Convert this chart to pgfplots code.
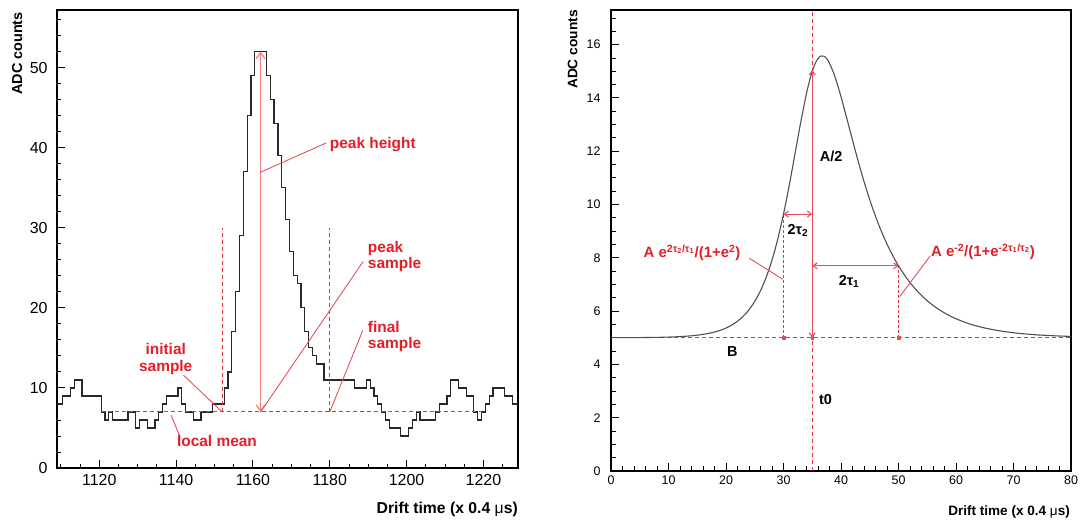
\documentclass[border=0pt]{standalone}
\usepackage{fontspec}
\setmainfont{Liberation Sans}
\usepackage{pgfplots}
\pgfplotsset{compat=1.18}
\usetikzlibrary{arrows.meta}
\definecolor{rtext}{RGB}{226,30,40}
\definecolor{rline}{RGB}{228,80,88}
\definecolor{rdash}{RGB}{236,50,62}
\definecolor{rpink}{RGB}{244,130,130}
\definecolor{histcol}{RGB}{40,40,40}
\definecolor{curvecol}{RGB}{80,80,80}
\begin{document}
\begin{tikzpicture}[x=1bp,y=1bp]
\path[use as bounding box] (0,0) rectangle (1086,525);
% ---------------- left panel ----------------
\begin{axis}[at={(57bp,57bp)},anchor=south west,scale only axis,
  width=461bp,height=458bp,
  xmin=1109,xmax=1229,ymin=0,ymax=57.2,
  xtick={1120,1140,...,1220}, minor xtick={1110,1115,...,1225},
  ytick={0,10,...,50}, minor ytick={2,4,...,56},
  tick pos=left, tick align=inside,
  major tick length=8bp, minor tick length=4bp,
  axis line style={line width=1.1bp},
  every tick/.style={black,line width=0.9bp},
  /pgf/number format/assume math mode=true,
  /pgf/number format/set thousands separator={},
  ticklabel style={font=\fontsize{16}{16}\selectfont},
  xticklabel style={yshift=-3bp},
  yticklabel style={xshift=-6bp}]
\addplot[const plot, color=histcol, line width=1.2bp] coordinates {
(1109,8) (1110.5,9) (1112.5,10) (1113.5,11) (1115.5,9) (1120.5,7) (1121.5,6)
(1122.5,7) (1123.5,6) (1127.5,7) (1129.5,5) (1130.5,6) (1132.5,5) (1134.5,6)
(1135.5,7) (1136.5,8) (1137.5,9) (1140.5,10) (1141.5,8) (1142.5,7) (1144.5,6)
(1146.5,7) (1149.5,8) (1152.5,10) (1153.5,12) (1154.5,17) (1155.5,22) (1156.5,29)
(1157.5,37) (1158.5,44) (1159.5,49) (1160.5,52) (1163.5,49) (1164.5,46) (1165.5,43)
(1166.5,39) (1167.5,35) (1168.5,31) (1169.5,27) (1170.5,24) (1171.5,23) (1172.5,20)
(1173.5,17) (1174.5,15) (1175.5,14) (1176.5,13) (1178.5,11) (1186.5,10) (1189.5,11)
(1190.5,10) (1191.5,9) (1192.5,8) (1193.5,7) (1194.5,6) (1195.5,5) (1198.5,4)
(1200.5,5) (1201.5,6) (1202.5,7) (1203.5,6) (1207.5,7) (1208.5,8) (1210.5,9)
(1211.5,11) (1213.5,10) (1215.5,9) (1217.5,7) (1218.5,6) (1219.5,7) (1220.5,8)
(1221.5,9) (1222.5,10) (1225.5,9) (1227.5,8) (1229,8)};
\draw[rdash, line width=1.1bp, dash pattern=on 4bp off 3bp] (axis cs:1120.5,7) -- (axis cs:1219.5,7);
\draw[rdash, line width=1.1bp, dash pattern=on 4bp off 3bp] (axis cs:1152,7) -- (axis cs:1152,30);
\draw[rdash, line width=1.1bp, dash pattern=on 4bp off 3bp] (axis cs:1180,7) -- (axis cs:1180,30);
\draw[rpink, line width=1.3bp, {Straight Barb[length=6bp,width=9bp]}-{Straight Barb[length=6bp,width=9bp]}] (axis cs:1162,7) -- (axis cs:1162,52);
\draw[rline, line width=0.9bp] (axis cs:1161.8,36.9) -- (axis cs:1179.1,40.6);
\draw[rline, line width=0.9bp] (axis cs:1162,7) -- (axis cs:1188.7,25.8);
\draw[rline, line width=0.9bp] (axis cs:1180,7) -- (axis cs:1188.6,17.2);
\draw[rline, line width=0.9bp] (axis cs:1141.9,11.6) -- (axis cs:1152,7);
\draw[rline, line width=0.9bp] (axis cs:1138.7,6.6) -- (axis cs:1141,3.9);
\begin{scope}[every node/.style={font=\fontsize{15.5}{16.5}\selectfont\bfseries, text=rtext, inner sep=0pt}]
\node[anchor=west] at (axis cs:1180,40.4) {peak height};
\node[anchor=west, align=left] at (axis cs:1189.9,26.4) {peak\\sample};
\node[anchor=west, align=left] at (axis cs:1189.9,16.4) {final\\sample};
\node[align=center] at (axis cs:1137.3,13.6) {initial\\sample};
\node[anchor=west] at (axis cs:1140.2,3.4) {local mean};
\end{scope}
\end{axis}
% ---------------- right panel ----------------
\begin{axis}[at={(611bp,54bp)},anchor=south west,scale only axis,
  width=460bp,height=461bp,
  xmin=0,xmax=80,ymin=0,ymax=17.3,
  xtick={0,10,...,80}, minor xtick={2,4,...,78},
  ytick={0,2,...,16}, minor ytick={0.5,1,...,17},
  tick pos=left, tick align=inside,
  major tick length=8bp, minor tick length=4.5bp,
  axis line style={line width=1.1bp},
  every tick/.style={black,line width=0.9bp},
  /pgf/number format/assume math mode=true,
  ticklabel style={font=\fontsize{12.5}{12.5}\selectfont},
  xticklabel style={yshift=-1bp},
  yticklabel style={xshift=-7bp}]
\draw[rdash, line width=1bp, dash pattern=on 4bp off 3bp] (axis cs:0,5) -- (axis cs:80,5);
\draw[rdash, line width=1bp, dash pattern=on 4bp off 3bp] (axis cs:35,0) -- (axis cs:35,17.3);
\draw[rdash, line width=0.9bp, dash pattern=on 3bp off 2bp] (axis cs:30,5) -- (axis cs:30,9.64);
\draw[rdash, line width=0.9bp, dash pattern=on 3bp off 2bp] (axis cs:50,5) -- (axis cs:50,7.70);
\addplot[color=curvecol, line width=1.1bp, smooth] coordinates {
(0,5.002) (2,5.003) (4,5.005) (6,5.009) (8,5.015) (10,5.025) (12,5.043) (14,5.074)
(15,5.097) (16,5.126) (17,5.165) (18,5.215) (19,5.280) (20,5.365) (21,5.477)
(22,5.621) (23,5.809) (24,6.051) (25,6.365) (26,6.766) (27,7.276) (28,7.916)
(29,8.702) (30,9.644) (31,10.727) (32,11.906) (33,13.095) (34,14.171) (34.5,14.624)
(35,15.0) (35.5,15.288) (36,15.479) (36.5,15.572) (37,15.569) (37.5,15.476)
(38,15.303) (39,14.762) (40,14.044) (41,13.239) (42,12.414) (43,11.613) (44,10.864)
(45,10.177) (46,9.558) (47,9.005) (48,8.514) (49,8.081) (50,7.700) (51,7.365)
(52,7.071) (53,6.813) (54,6.587) (55,6.389) (56,6.216) (57,6.064) (58,5.931)
(59,5.815) (60,5.713) (62,5.546) (64,5.418) (66,5.321) (68,5.246) (70,5.188)
(72,5.144) (74,5.110) (76,5.085) (78,5.065) (80,5.050)};
\draw[rline, line width=1.2bp, {Straight Barb[length=4bp,width=6bp]}-{Straight Barb[length=4bp,width=6bp]}] (axis cs:35,5) -- (axis cs:35,15.05);
\draw[rline, line width=1.1bp, {Straight Barb[length=4bp,width=6bp]}-{Straight Barb[length=4bp,width=6bp]}] (axis cs:30,9.64) -- (axis cs:35,9.64);
\draw[rline, line width=1.1bp, {Straight Barb[length=4bp,width=6bp]}-{Straight Barb[length=4bp,width=6bp]}] (axis cs:35,7.70) -- (axis cs:50,7.70);
\draw[rline, line width=0.9bp] (axis cs:24.07,7.98) -- (axis cs:29.9,7.19);
\draw[rline, line width=0.9bp] (axis cs:55.5,8.07) -- (axis cs:50.2,6.54);
\addplot[only marks, mark=square*, mark size=1.3bp, color=rline] coordinates {(30,5) (35,5) (50,5)};
\begin{scope}[every node/.style={font=\fontsize{14.5}{15}\selectfont\bfseries, inner sep=0pt}]
\node at (axis cs:38.3,11.8) {A/2};
\node at (axis cs:32.5,9.04) {2τ\textsubscript{2}};
\node at (axis cs:41.4,7.1) {2τ\textsubscript{1}};
\node at (axis cs:21.1,4.5) {B};
\node at (axis cs:37.3,2.7) {t0};
\node[text=rtext, font=\fontsize{15}{15}\selectfont\bfseries] at (axis cs:14.1,8.2) {A e\textsuperscript{2τ\textsubscript{2}/τ\textsubscript{1}}/(1+e\textsuperscript{2})};
\node[text=rtext, font=\fontsize{15}{15}\selectfont\bfseries] at (axis cs:64.7,8.24) {A e\textsuperscript{-2}/(1+e\textsuperscript{-2τ\textsubscript{1}/τ\textsubscript{2}})};
\end{scope}
\end{axis}
% ---------------- titles ----------------
\node[font=\fontsize{15.8}{16}\selectfont\bfseries, anchor=base east, inner sep=0pt] at (518,11.6) {Drift time (x 0.4 {\mdseries μ}s)};
\node[font=\fontsize{13.6}{14}\selectfont\bfseries, anchor=base east, inner sep=0pt] at (1070,9.6) {Drift time (x 0.4 {\mdseries μ}s)};
\node[font=\fontsize{14.5}{15}\selectfont\bfseries, rotate=90, anchor=base east, inner sep=0pt] at (22,513) {ADC counts};
\node[font=\fontsize{13.8}{14}\selectfont\bfseries, rotate=90, anchor=base east, inner sep=0pt] at (577.3,515) {ADC counts};
\end{tikzpicture}
\end{document}
